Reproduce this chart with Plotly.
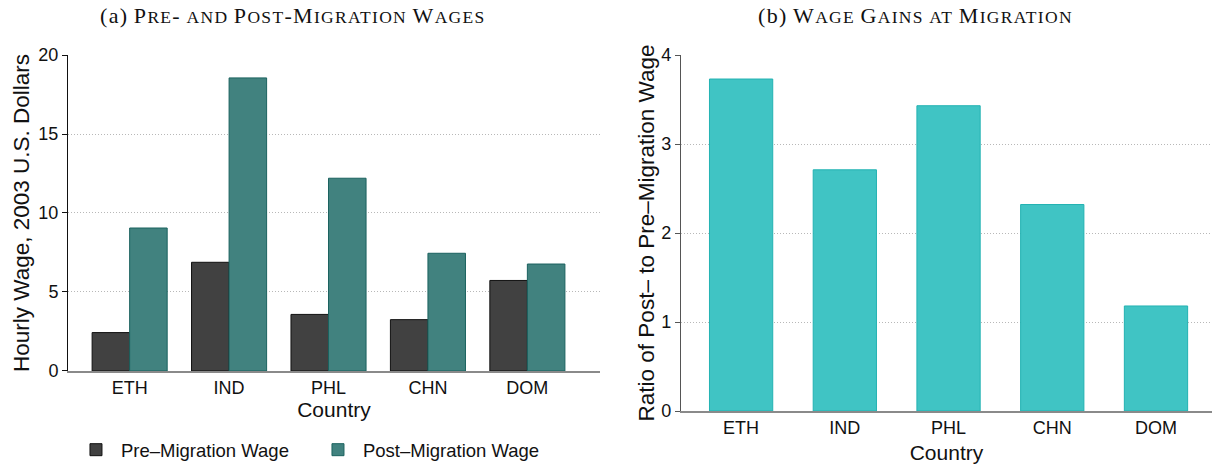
import plotly.graph_objects as go

countries = ["ETH", "IND", "PHL", "CHN", "DOM"]
pre_wage = [2.43, 6.88, 3.58, 3.25, 5.73]
post_wage = [9.05, 18.55, 12.2, 7.45, 6.77]
ratio = [3.73, 2.71, 3.43, 2.32, 1.18]
left_ticks = [0, 5, 10, 15, 20]
right_ticks = [0, 1, 2, 3, 4]

SANS = "Liberation Sans, Arial, sans-serif"
SERIF = "Liberation Serif, Times New Roman, serif"


def small_caps(label, text, big=22, small=17.5, spacing=1.3):
    out = [f"<span style='font-size:{big}px;letter-spacing:{spacing}px'>{label}</span>"]
    for word in text.split(" "):
        w = ""
        for ch in word:
            if ch.isalpha() and not ch.isupper():
                w += f"<span style='font-size:{small}px;letter-spacing:{spacing}px'>{ch.upper()}</span>"
            else:
                w += f"<span style='font-size:{big}px;letter-spacing:{spacing}px'>{ch}</span>"
        out.append(w)
    return " ".join(out)


fig = go.Figure()
fig.add_trace(go.Bar(
    x=countries, y=pre_wage, name="Pre\u2013Migration Wage",
    marker=dict(color="#414141", line=dict(color="#111111", width=1)),
    xaxis="x", yaxis="y",
))
fig.add_trace(go.Bar(
    x=countries, y=post_wage, name="Post\u2013Migration Wage",
    marker=dict(color="#41827F", line=dict(color="#1B625F", width=1)),
    xaxis="x", yaxis="y",
))
fig.add_trace(go.Bar(
    x=countries, y=ratio, name="Ratio", showlegend=False, width=0.61,
    marker=dict(color="#40C4C4", line=dict(color="#22B2B2", width=1)),
    xaxis="x2", yaxis="y2",
))

grid = dict(showgrid=True, gridcolor="#b8b8b8", griddash="1px,2px", gridwidth=1)

fig.update_layout(
    width=1216, height=468,
    margin=dict(l=68, r=4, t=55, b=57, autoexpand=False),
    paper_bgcolor="white", plot_bgcolor="white",
    barmode="group", bargap=0.245, bargroupgap=0,
    font=dict(family=SANS, size=18, color="#111111"),
    xaxis=dict(domain=[0, 0.465], range=[-0.62, 4.73], type="category",
               showline=True, linecolor="#8a8a8a", linewidth=1.5,
               ticks="", tickfont=dict(size=18), automargin=False,
               title=dict(text="Country", font=dict(size=21), standoff=4),
               anchor="y"),
    yaxis=dict(domain=[0.1124, 1], range=[0, 20], tickvals=left_ticks,
               showline=True, linecolor="#111111", linewidth=1,
               ticks="outside", ticklen=5, tickcolor="#111111",
               tickfont=dict(size=18), zeroline=False, automargin=False,
               title=dict(text="Hourly Wage, 2003 U.S. Dollars", font=dict(size=22.5), standoff=2),
               anchor="x", **grid),
    xaxis2=dict(domain=[0.5358, 1], range=[-0.58, 4.54], type="category",
                showline=True, linecolor="#8a8a8a", linewidth=1.5,
                ticks="", tickfont=dict(size=18), automargin=False,
                title=dict(text="Country", font=dict(size=21), standoff=8),
                anchor="y2"),
    yaxis2=dict(domain=[0, 1], range=[0, 4], tickvals=right_ticks,
                showline=True, linecolor="#555555", linewidth=1,
                ticks="outside", ticklen=5, tickcolor="#555555",
                tickfont=dict(size=18), zeroline=False, automargin=False,
                title=dict(text="Ratio of Post\u2013 to Pre\u2013Migration Wage", font=dict(size=22.5), standoff=0),
                anchor="x2", **grid),
    legend=dict(orientation="h", x=0.0026, xanchor="left", y=-0.11, yanchor="middle",
                font=dict(size=18.5), itemwidth=40, entrywidth=187, entrywidthmode="pixels",
                traceorder="normal"),
    annotations=[
        dict(text=small_caps("(a)", "Pre- and Post-Migration Wages"), xref="paper", yref="paper",
             x=0.197, y=1.11, xanchor="center", yanchor="middle", showarrow=False,
             font=dict(family=SERIF, size=22, color="#111111")),
        dict(text=small_caps("(b)", "Wage Gains at Migration"), xref="paper", yref="paper",
             x=0.741, y=1.11, xanchor="center", yanchor="middle", showarrow=False,
             font=dict(family=SERIF, size=22, color="#111111")),
    ],
)

fig.write_html("out.html", config={"displayModeBar": False},
               post_script="document.body.style.margin='0';document.body.style.padding='0';")
